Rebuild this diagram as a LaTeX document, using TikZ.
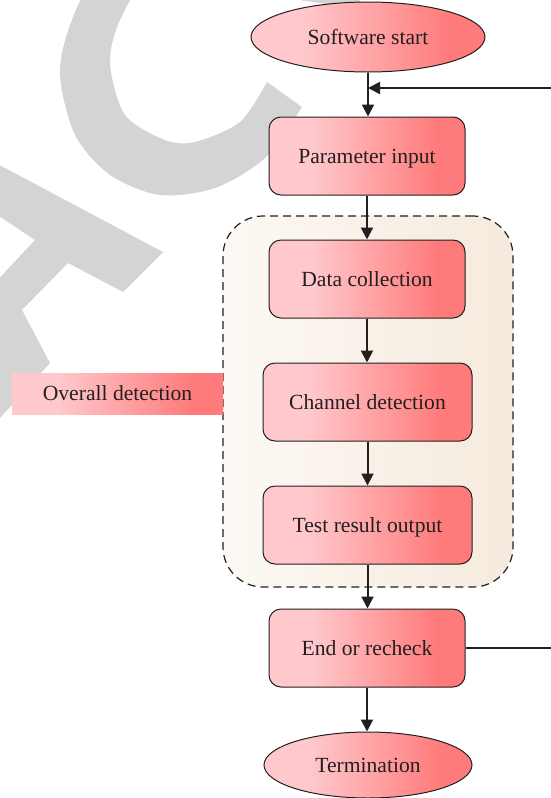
\documentclass[tikz,border=0pt]{standalone}
\usepackage{fontspec}
\setmainfont{Liberation Serif}
\usetikzlibrary{arrows.meta,shapes.geometric}

\definecolor{boxlight}{HTML}{FFC8CC}
\definecolor{boxred}{HTML}{FF7A7A}
\definecolor{areaL}{HTML}{FCF9F4}
\definecolor{areaR}{HTML}{F5EADD}
\definecolor{markgrey}{HTML}{D4D4D4}
\definecolor{ink}{HTML}{231F20}

% light pink on the left, red on the right, flat at both ends
\pgfdeclarehorizontalshading{pinkred}{100bp}{color(0bp)=(boxlight); color(36bp)=(boxlight); color(68bp)=(boxred); color(100bp)=(boxred)}

\tikzset{
  lbl/.style={font=\fontsize{10.8}{13}\selectfont, text=ink, text height=0.74em, text depth=0em},
  procbox/.style={lbl, rectangle, rounded corners=6pt, draw=ink, line width=0.5pt,
    shading=pinkred, minimum width=98pt, minimum height=39pt, inner sep=0pt},
  widebox/.style={procbox, minimum width=104.5pt},
  terminal/.style={lbl, ellipse, draw=ink, line width=0.5pt, shading=pinkred, inner sep=0pt},
  tagbox/.style={lbl, rectangle, shading=pinkred, minimum width=105.5pt, minimum height=20.5pt, inner sep=0pt},
  groupbox/.style={rectangle, rounded corners=20pt, left color=areaL, right color=areaR,
    draw=ink, line width=0.6pt, dash pattern=on 4pt off 2.5pt, inner sep=0pt},
  flow/.style={draw=ink, line width=1pt, -{Triangle[length=6pt,width=6pt]}},
  plainline/.style={draw=ink, line width=0.6pt},
}

\begin{document}
\begin{tikzpicture}[x=0.5pt,y=-0.5pt]
\useasboundingbox (0,0) rectangle (551,798);

% grey background marks
\begin{scope}
  \clip (0,0) rectangle (551,798);
  \fill[markgrey]
    plot[smooth] coordinates {(302,107) (265,158) (215,188) (160,195) (110,175) (75,135) (60,75) (70,25) (100,-35) (150,-80) (220,-95) (290,-70) (345,-20) (365,10)}
    -- plot[smooth] coordinates {(300,0) (265,-35) (210,-45) (150,-25) (120,20) (110,63) (125,115) (165,140) (195,142) (240,122) (267,82)}
    -- cycle;
  \fill[markgrey, even odd rule]
    (-10,160) -- (163,252) -- (123,292) -- (68,263) -- (22,310) -- (50,363) -- (-10,429) -- cycle
    (-10,210) -- (35,240) -- (-10,288) -- cycle;
\end{scope}

% grouped stage
\node[groupbox, minimum width=145pt, minimum height=185.5pt] (grp) at (368,401.5) {};

% main column
\node[terminal, minimum width=117pt, minimum height=35pt] (start) at (368,37) {Software start};
\node[procbox] (param) at (367,156) {Parameter input};
\node[procbox] (data) at (367,279) {Data collection};
\node[widebox] (chan) at (367.5,402) {Channel detection};
\node[widebox] (test) at (367.5,525) {Test result output};
\node[procbox] (endr) at (367,648) {End or recheck};
\node[terminal, minimum width=104pt, minimum height=33pt] (term) at (368,765) {Termination};

% side label
\node[tagbox] (overall) at (117.5,393.5) {Overall detection};

% connectors
\draw[flow] (start.south) -- (start.south |- param.north);
\draw[flow] (param.south) -- (param.south |- data.north);
\draw[flow] (data.south) -- (data.south |- chan.north);
\draw[flow] (chan.south) -- (chan.south |- test.north);
\draw[flow] (test.south) -- (test.south |- endr.north);
\draw[flow] (endr.south) -- (endr.south |- term.north);

% return path
\coordinate (fbin) at (551,88);
\coordinate (join) at (start.south |- fbin);
\draw[flow] (fbin) -- (join);
\coordinate (fbout) at (551,648);
\draw[plainline] (endr.east) -- (fbout);
\end{tikzpicture}
\end{document}
